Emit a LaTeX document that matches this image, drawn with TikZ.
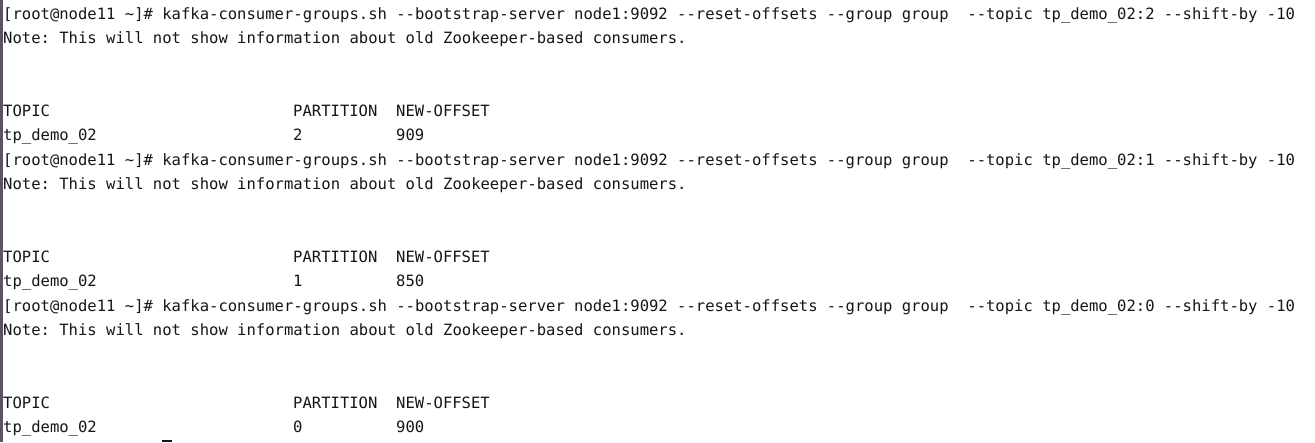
\documentclass[tikz,border=0pt]{standalone}
\usepackage{fontspec}
\setmonofont{DejaVu Sans Mono}
\usetikzlibrary{positioning}
\definecolor{winedge}{RGB}{92,82,98}
\definecolor{termtext}{RGB}{22,22,22}

\begin{document}
\begin{tikzpicture}[x=1pt,y=-1pt,
  term line/.style={anchor=base west,inner sep=0pt,text=termtext,
    font=\ttfamily\fontsize{15.55}{18}\selectfont}]
  \useasboundingbox[fill=white] (0,0) rectangle (1315,442);
  \fill[winedge] (0,0) rectangle (2.5,442);
  % one block per reset command
  \foreach \b/\pn/\nof in {0/2/909,1/1/850,2/0/900}{
    \pgfmathsetmacro{\y}{19+146*\b}
    \node[term line] (cmd\b) at (3,\y) {[root@node11 \textasciitilde]\# kafka-consumer-groups.sh --bootstrap-server node1:9092 --reset-offsets --group group~ --topic tp\_demo\_02:\pn{} --shift-by -10};
    \node[term line] (note\b) at (3,\y+24.33) {Note: This will not show information about old Zookeeper-based consumers.};
    \node[term line] (topic\b) at (3,\y+97.33) {TOPIC};
    \node[term line] (partition\b) at (293,\y+97.33) {PARTITION};
    \node[term line] (newoffset\b) at (396,\y+97.33) {NEW-OFFSET};
    \node[term line] (tp\b) at (3,\y+121.67) {tp\_demo\_02};
    \node[term line] (pn\b) at (293,\y+121.67) {\pn};
    \node[term line] (nof\b) at (396,\y+121.67) {\nof};
  }
  \fill[termtext] (162,439.5) rectangle (172,442);
\end{tikzpicture}
\end{document}
